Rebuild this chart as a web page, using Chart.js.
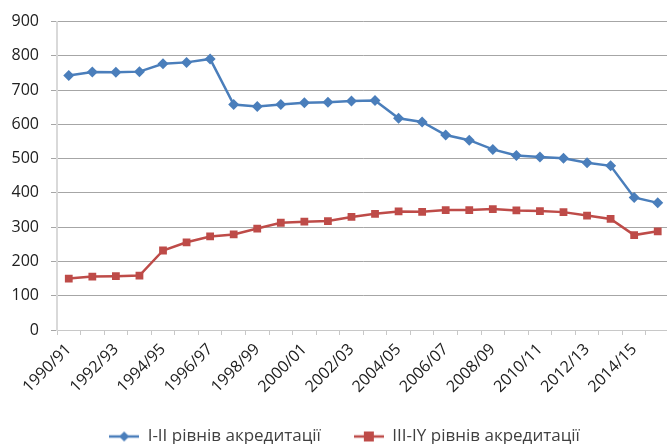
<!DOCTYPE html>
<html>
<head>
<meta charset="utf-8">
<script src="https://cdn.jsdelivr.net/npm/chart.js@4/dist/chart.umd.min.js"></script>
<style>
  html, body { margin: 0; padding: 0; background: #fff; overflow: hidden; }
  #wrap { width: 675px; height: 444px; }
</style>
</head>
<body>
<div id="wrap"><canvas id="chart"></canvas></div>
<script>
// academic years 1990/91 .. 2015/16
const years = [
  "1990/91","1991/92","1992/93","1993/94","1994/95","1995/96","1996/97","1997/98","1998/99","1999/00",
  "2000/01","2001/02","2002/03","2003/04","2004/05","2005/06","2006/07","2007/08","2008/09","2009/10",
  "2010/11","2011/12","2012/13","2013/14","2014/15","2015/16"
];

// I-II levels of accreditation
const levelsOneTwo = [
  743, 753, 752, 754, 777, 781, 791, 658, 652, 658,
  663, 665, 668, 670, 618, 607, 569, 554, 527, 509,
  505, 501, 488, 479, 387, 371
];

// III-IV levels of accreditation
const levelsThreeFour = [
  150, 156, 157, 159, 232, 256, 273, 279, 296, 313,
  316, 318, 330, 339, 346, 345, 350, 350, 353, 349,
  347, 344, 334, 324, 277, 288
];

const seriesNames = ["I-II рівнів акредитації", "III-IY рівнів акредитації"];

const BLUE = "#4a7ebb";
const RED = "#be4b48";

// legend symbol: short line with the marker on it
function legendIcon(color, shape) {
  const c = document.createElement("canvas");
  c.width = 30; c.height = 12;
  const g = c.getContext("2d");
  g.strokeStyle = color;
  g.lineWidth = 2.5;
  g.beginPath(); g.moveTo(0, 6); g.lineTo(30, 6); g.stroke();
  g.fillStyle = color;
  if (shape === "diamond") {
    g.beginPath();
    g.moveTo(15, 1); g.lineTo(20, 6); g.lineTo(15, 11); g.lineTo(10, 6);
    g.closePath(); g.fill();
  } else {
    g.fillRect(10, 1, 10, 10);
  }
  return c;
}
const icons = [legendIcon(BLUE, "diamond"), legendIcon(RED, "square")];

const tickFont = { family: "'Open Sans', sans-serif", size: 16 };

// legend sits a little right of centre in the original
const nudgeLegend = {
  id: "nudgeLegend",
  afterLayout(chart) {
    chart.legend.left += 7;
    chart.legend.right += 7;
  }
};

new Chart(document.getElementById("chart"), {
  type: "line",
  data: {
    labels: years,
    datasets: [{
      label: seriesNames[0],
      data: levelsOneTwo,
      borderColor: BLUE,
      backgroundColor: BLUE,
      borderWidth: 2.5,
      pointStyle: "rectRot",
      pointRadius: 5.5,
      pointHoverRadius: 5.5,
      pointBorderWidth: 0,
      tension: 0
    }, {
      label: seriesNames[1],
      data: levelsThreeFour,
      borderColor: RED,
      backgroundColor: RED,
      borderWidth: 2.5,
      pointStyle: "rect",
      pointRadius: 5.5,
      pointHoverRadius: 5.5,
      pointBorderWidth: 0,
      tension: 0
    }]
  },
  plugins: [nudgeLegend],
  options: {
    responsive: true,
    maintainAspectRatio: false,
    animation: false,
    layout: { padding: { top: 7, right: 0, left: 0, bottom: -11 } },
    plugins: {
      tooltip: { enabled: false },
      legend: {
        position: "bottom",
        labels: {
          usePointStyle: true,
          pointStyleWidth: 30,
          boxHeight: 12,
          padding: 33,
          color: "#404040",
          font: { family: "'Open Sans', sans-serif", size: 17 },
          generateLabels(chart) {
            const items = Chart.defaults.plugins.legend.labels.generateLabels(chart);
            items.forEach((it, i) => { it.pointStyle = icons[i]; });
            return items;
          }
        }
      }
    },
    scales: {
      x: {
        offset: true,
        grid: {
          display: true,
          offset: true,
          drawOnChartArea: false,
          drawTicks: true,
          tickLength: 5,
          color: "#c8c8c8"
        },
        border: { color: "#c8c8c8", width: 1 },
        ticks: {
          autoSkip: false,
          maxRotation: 45,
          minRotation: 45,
          padding: 5,
          color: "#202020",
          font: tickFont,
          callback(v, i) { return i % 2 === 0 ? years[i] : ""; }
        },
        afterFit(axis) {
          axis.height = 65;
          axis.paddingRight = 0;
        }
      },
      y: {
        min: 0,
        max: 900,
        ticks: {
          stepSize: 100,
          padding: 12,
          color: "#202020",
          font: tickFont
        },
        grid: {
          color: "#a6a6a6",
          tickLength: 6,
          drawTicks: true
        },
        border: { color: "#d9d9d9", width: 2 },
        afterFit(axis) { axis.width = 57; }
      }
    }
  }
});
</script>
</body>
</html>
